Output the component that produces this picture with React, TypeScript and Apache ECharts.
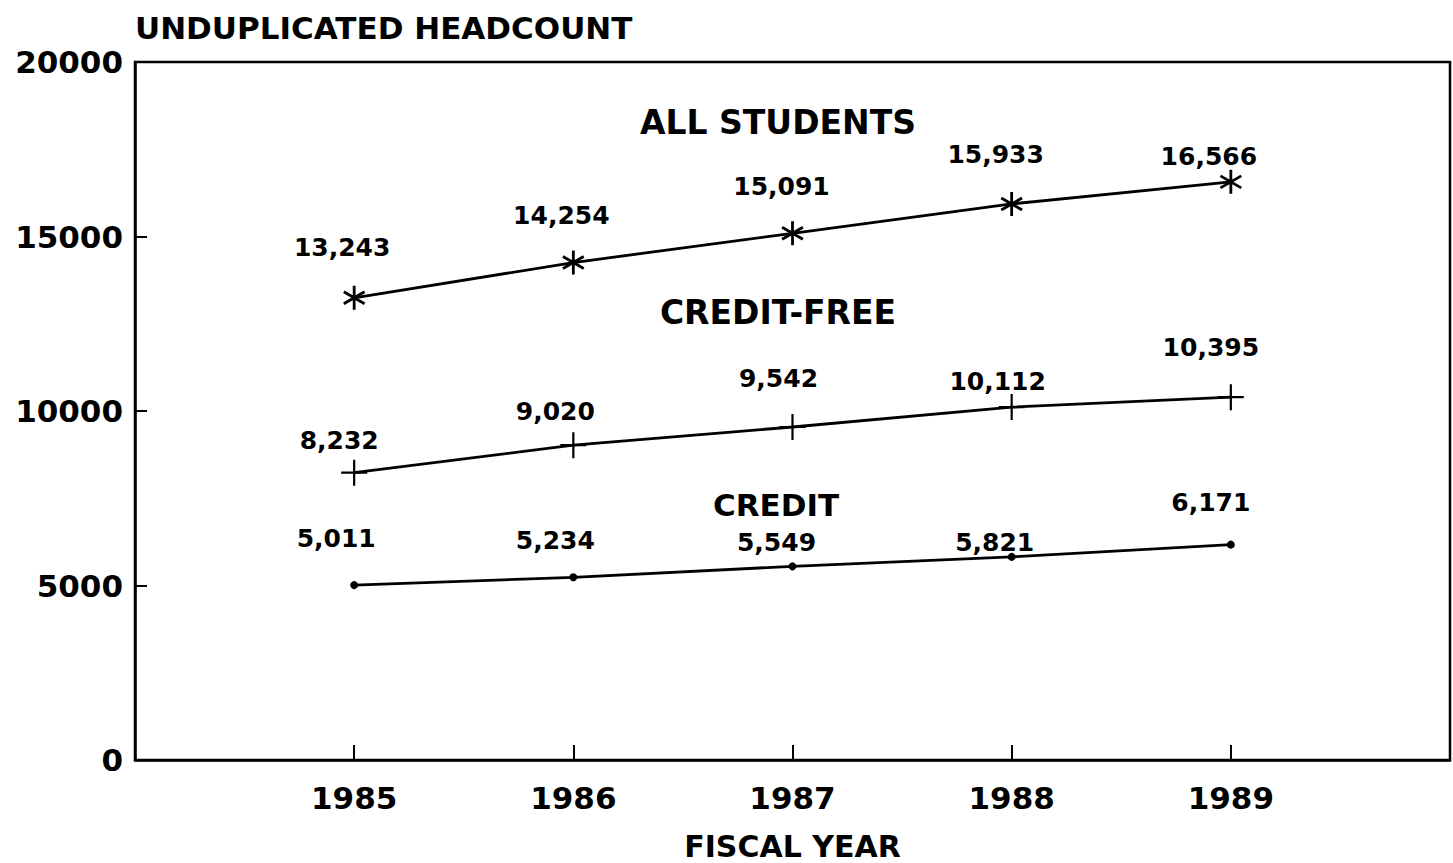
import React, { useEffect, useRef } from "react";
import * as echarts from "echarts";

const years = [1985, 1986, 1987, 1988, 1989];
const allStudents = [13243, 14254, 15091, 15933, 16566];
const creditFree = [8232, 9020, 9542, 10112, 10395];
const credit = [5011, 5234, 5549, 5821, 6171];
const seriesNames = ["ALL STUDENTS", "CREDIT-FREE", "CREDIT"];
const yTicks = [0, 5000, 10000, 15000, 20000];

// label placement (pixel offsets from each point)
const allOffsets = [[-12, -50], [-12, -47], [-11, -47], [-16, -49], [-22, -25]];
const cfOffsets = [[-15, -32], [-18, -34], [-14, -48], [-14, -26], [-20, -50]];
const crOffsets = [[-18, -47], [-18, -37], [-16, -24], [-17, -14], [-20, -42]];

const FONT = "'DejaVu Sans', 'Liberation Sans', sans-serif";

const fmt = (v: number) => v.toLocaleString("en-US");

function buildSeries(name: string, values: number[], offsets: number[][], symbol: string, symbolSize: number, bw: number) {
  return {
    type: "line",
    name,
    data: values.map((v, i) => ({
      value: [years[i], v],
      label: { offset: offsets[i] },
    })),
    symbol,
    symbolSize,
    symbolKeepAspect: true,
    lineStyle: { color: "#000", width: 2.8 },
    itemStyle: { color: "#000", borderColor: "#000", borderWidth: bw },
    label: {
      show: true,
      position: "inside",
      formatter: (p: any) => fmt(p.value[1]),
      fontFamily: FONT,
      fontWeight: "bold",
      fontSize: 25,
      color: "#000",
    },
    z: 3,
  };
}

export default function App() {
  const ref = useRef<HTMLDivElement>(null);
  useEffect(() => {
    const chart = echarts.init(ref.current!, null, { renderer: "svg" });
    const textStyle = { fontFamily: FONT, fontWeight: "bold", fontSize: 32, fill: "#000", textAlign: "center", textVerticalAlign: "middle" };
    chart.setOption({
      animation: false,
      backgroundColor: "#fff",
      grid: {
        left: 135, right: 3, top: 62, bottom: 103,
        show: true, borderColor: "#000", borderWidth: 2.5,
        containLabel: false, outerBoundsMode: "none",
      },
      xAxis: {
        type: "value",
        min: 1984,
        max: 1990,
        interval: 1,
        name: "FISCAL YEAR",
        nameLocation: "middle",
        nameGap: 71,
        nameTextStyle: { fontFamily: FONT, fontWeight: "bold", fontSize: 30, color: "#000" },
        axisLine: { lineStyle: { color: "#000", width: 2.5 } },
        axisTick: {
          inside: true,
          length: 15,
          lineStyle: { color: "#000", width: 2 },
          customValues: years,
        },
        axisLabel: {
          customValues: years,
          formatter: (v: number) => String(v),
          margin: 22,
          fontFamily: FONT,
          fontWeight: "bold",
          fontSize: 31,
          color: "#000",
        },
        splitLine: { show: false },
      },
      yAxis: {
        type: "value",
        min: yTicks[0],
        max: yTicks[yTicks.length - 1],
        interval: 5000,
        axisLine: { show: true, lineStyle: { color: "#000", width: 2.5 } },
        axisTick: { show: true, inside: true, length: 12, lineStyle: { color: "#000", width: 2 } },
        axisLabel: {
          margin: 12,
          formatter: (v: number) => String(v),
          fontFamily: FONT,
          fontWeight: "bold",
          fontSize: 31,
          color: "#000",
        },
        splitLine: { show: false },
      },
      graphic: [
        { type: "text", x: 135, y: 28, style: { ...textStyle, fontSize: 31, textAlign: "left", text: "UNDUPLICATED HEADCOUNT" } },
        { type: "text", x: 778, y: 122, style: { ...textStyle, fontSize: 33, text: seriesNames[0] } },
        { type: "text", x: 778, y: 312, style: { ...textStyle, fontSize: 33, text: seriesNames[1] } },
        { type: "text", x: 776, y: 505, style: { ...textStyle, fontSize: 31, text: seriesNames[2] } },
      ],
      series: [
        buildSeries(seriesNames[0], allStudents, allOffsets, "path://M5,0 L5,10 M0.67,2.5 L9.33,7.5 M0.67,7.5 L9.33,2.5", 24, 2.8),
        buildSeries(seriesNames[1], creditFree, cfOffsets, "path://M0,5 L10,5 M5,0 L5,10", 26, 2.2),
        buildSeries(seriesNames[2], credit, crOffsets, "circle", 8, 0),
      ],
    });
    return () => chart.dispose();
  }, []);
  return <div ref={ref} style={{ position: "absolute", left: 0, top: 0, width: 1453, height: 863 }} />;
}
